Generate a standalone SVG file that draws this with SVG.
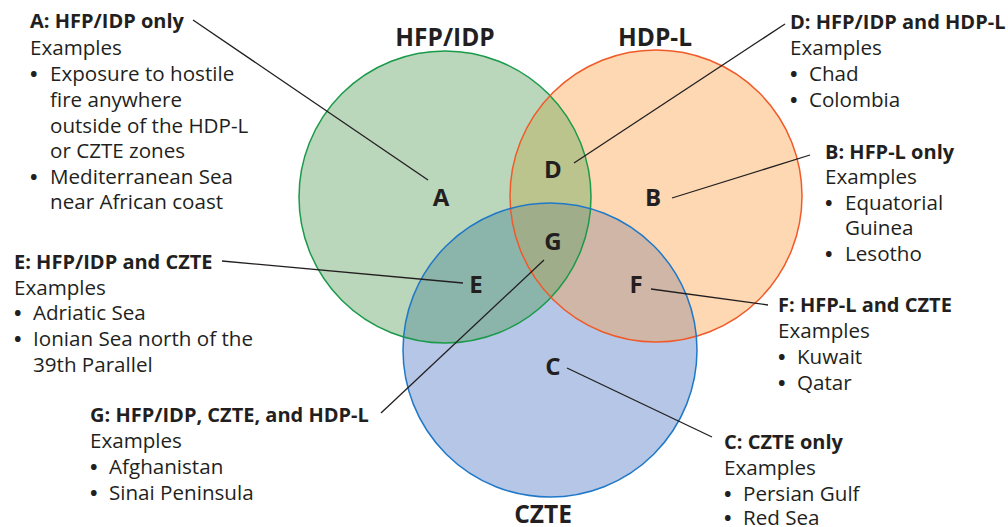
<svg xmlns="http://www.w3.org/2000/svg" width="1008" height="527" viewBox="0 0 1008 527">
<style>
text{font-family:"Open Sans","Noto Sans","Liberation Sans",sans-serif;fill:#231f20;font-size:20.6px}
.h{font-weight:700;font-size:20px}
.b{font-weight:700;font-size:20px}
.t{font-weight:700;font-size:24.5px;text-anchor:middle}
.l{font-weight:700;font-size:24px;text-anchor:middle}
.ld{stroke:#231f20;stroke-width:1.3;fill:none}
</style>
<defs>
<clipPath id="cg"><circle cx="445" cy="197" r="146"/></clipPath>
<clipPath id="co"><circle cx="656" cy="196" r="146"/></clipPath>
</defs>
<g id="regions">
<circle cx="445" cy="197" r="146" fill="#bad6bb"/>
<circle cx="656" cy="196" r="146" fill="#fdd8b2"/>
<circle cx="550" cy="350" r="147" fill="#b5c6e6"/>
<g clip-path="url(#cg)"><circle cx="656" cy="196" r="146" fill="#bcc48e"/><circle cx="550" cy="350" r="147" fill="#8bb4aa"/></g>
<g clip-path="url(#co)"><circle cx="550" cy="350" r="147" fill="#d0b6a7"/></g>
<g clip-path="url(#cg)"><g clip-path="url(#co)"><circle cx="550" cy="350" r="147" fill="#a0ad8a"/></g></g>
<circle cx="445" cy="197" r="146" fill="none" stroke="#1a9a4a" stroke-width="1.5"/>
<circle cx="656" cy="196" r="146" fill="none" stroke="#f05a28" stroke-width="1.5"/>
<circle cx="550" cy="350" r="147" fill="none" stroke="#1f78c8" stroke-width="1.5"/>
</g>
<g id="titles">
<text class="t" x="445" y="46">HFP/IDP</text>
<text class="t" x="655" y="46">HDP-L</text>
<text class="t" x="543" y="523">CZTE</text>
</g>
<g id="connectors">
<line class="ld" x1="193" y1="20" x2="428" y2="180"/>
<line class="ld" x1="785" y1="24" x2="574" y2="163"/>
<line class="ld" x1="810" y1="155" x2="672" y2="198"/>
<line class="ld" x1="222" y1="261" x2="463" y2="283"/>
<line class="ld" x1="651" y1="289" x2="768" y2="305"/>
<line class="ld" x1="544" y1="260" x2="381" y2="413"/>
<line class="ld" x1="567" y1="368" x2="712" y2="437"/>
</g>
<g id="region-labels">
<text class="l" x="441" y="206">A</text>
<text class="l" x="553" y="178">D</text>
<text class="l" x="653" y="206">B</text>
<text class="l" x="553" y="250">G</text>
<text class="l" x="476" y="293">E</text>
<text class="l" x="636" y="293">F</text>
<text class="l" x="553" y="375">C</text>
</g>
<g id="node-A">
<text class="h" x="30" y="28">A: HFP/IDP only</text>
<text x="30" y="55">Examples</text>
<text class="b" x="30" y="81">•</text><text x="50" y="81">Exposure to hostile</text>
<text x="50" y="107">fire anywhere</text>
<text x="50" y="133">outside of the HDP-L</text>
<text x="50" y="158">or CZTE zones</text>
<text class="b" x="30" y="184">•</text><text x="50" y="184">Mediterranean Sea</text>
<text x="50" y="209">near African coast</text>
</g>
<g id="node-D">
<text class="h" x="790" y="29">D: HFP/IDP and HDP-L</text>
<text x="790" y="55">Examples</text>
<text class="b" x="790" y="81">•</text><text x="809" y="81">Chad</text>
<text class="b" x="790" y="107">•</text><text x="809" y="107">Colombia</text>
</g>
<g id="node-B">
<text class="h" x="825" y="159">B: HFP-L only</text>
<text x="825" y="184">Examples</text>
<text class="b" x="825" y="210">•</text><text x="845" y="210">Equatorial</text>
<text x="845" y="235">Guinea</text>
<text class="b" x="825" y="261">•</text><text x="845" y="261">Lesotho</text>
</g>
<g id="node-E">
<text class="h" x="14" y="269">E: HFP/IDP and CZTE</text>
<text x="14" y="295">Examples</text>
<text class="b" x="14" y="320">•</text><text x="33" y="320">Adriatic Sea</text>
<text class="b" x="14" y="346">•</text><text x="33" y="346">Ionian Sea north of the</text>
<text x="33" y="372">39th Parallel</text>
</g>
<g id="node-F">
<text class="h" x="778" y="312">F: HFP-L and CZTE</text>
<text x="778" y="338">Examples</text>
<text class="b" x="778" y="364">•</text><text x="797" y="364">Kuwait</text>
<text class="b" x="778" y="390">•</text><text x="797" y="390">Qatar</text>
</g>
<g id="node-G">
<text class="h" x="90" y="422">G: HFP/IDP, CZTE, and HDP-L</text>
<text x="90" y="448">Examples</text>
<text class="b" x="90" y="474">•</text><text x="109" y="474">Afghanistan</text>
<text class="b" x="90" y="500">•</text><text x="109" y="500">Sinai Peninsula</text>
</g>
<g id="node-C">
<text class="h" x="724" y="449">C: CZTE only</text>
<text x="724" y="475">Examples</text>
<text class="b" x="724" y="501">•</text><text x="743" y="501">Persian Gulf</text>
<text class="b" x="724" y="525">•</text><text x="743" y="525">Red Sea</text>
</g>
</svg>
